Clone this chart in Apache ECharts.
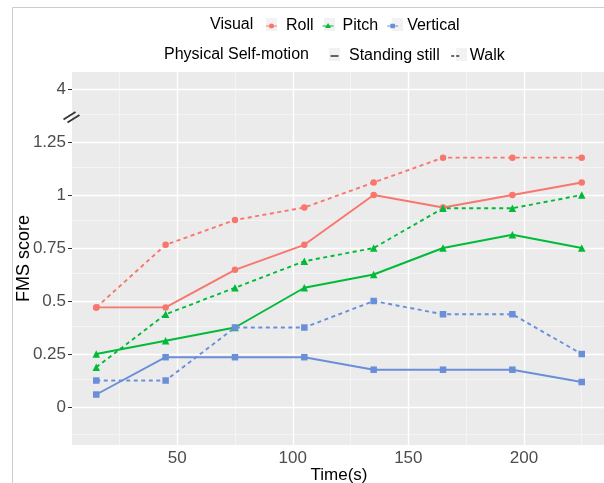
<!DOCTYPE html>
<html>
<head>
<meta charset="utf-8">
<script src="https://cdn.jsdelivr.net/npm/echarts@6/dist/echarts.min.js"></script>
<style>
html,body{margin:0;padding:0;background:#fff;}
#chart{width:604px;height:483px;}
</style>
</head>
<body>
<div id="chart"></div>
<script>
// ---- data ----
const timeValues = [15, 45, 75, 105, 135, 165, 195, 225];
const rollStanding = [0.47, 0.47, 0.647, 0.765, 1.0, 0.941, 1.0, 1.059];
const rollWalk = [0.47, 0.765, 0.882, 0.941, 1.059, 1.176, 1.176, 1.176];
const pitchStanding = [0.25, 0.3125, 0.375, 0.5625, 0.625, 0.75, 0.8125, 0.75];
const pitchWalk = [0.1875, 0.4375, 0.5625, 0.6875, 0.75, 0.9375, 0.9375, 1.0];
const verticalStanding = [0.059, 0.235, 0.235, 0.235, 0.176, 0.176, 0.176, 0.118];
const verticalWalk = [0.125, 0.125, 0.375, 0.375, 0.5, 0.4375, 0.4375, 0.25];

const visualNames = ['Roll', 'Pitch', 'Vertical'];
const motionNames = ['Standing still', 'Walk'];

const xTickValues = [50, 100, 150, 200];
const xMinorValues = [25, 75, 125, 175, 225];
const yTickValues = [0, 0.25, 0.5, 0.75, 1, 1.25, 4];
const yTickLabels = ['0', '0.25', '0.5', '0.75', '1', '1.25', '4'];

// ---- broken axis transform (1.25 .. 4 compressed into one step) ----
const breakAt = 1.25, breakTop = 4, breakSpan = 0.25;
function toAxis(v) {
  return v <= breakAt ? v : breakAt + (v - breakAt) * breakSpan / (breakTop - breakAt);
}
const yTickAxis = yTickValues.map(toAxis);
const yMinorAxis = [];
for (let i = 0; i < yTickAxis.length - 1; i++) yMinorAxis.push((yTickAxis[i] + yTickAxis[i + 1]) / 2);
yMinorAxis.unshift(yTickAxis[0] - (yTickAxis[1] - yTickAxis[0]) / 2);

const colors = { Roll: '#F8766D', Pitch: '#00BA38', Vertical: '#6A8FD8' };
const symbols = { Roll: 'circle', Pitch: 'triangle', Vertical: 'rect' };
const symbolSizes = { Roll: 6.5, Pitch: 7.5, Vertical: 6.5 };

// legend key icons (11 x 13 box, grey key background drawn separately)
const BOX = 'M0,0h0.01v0.01h-0.01z M10.99,12.99h0.01v0.01h-0.01z ';
const keyIcons = {
  Roll: 'path://' + BOX + 'M0,5.9h11v1.2h-11z M3,6.5a2.5,2.5 0 1,1 5,0a2.5,2.5 0 1,1 -5,0z',
  Pitch: 'path://' + BOX + 'M0,5.9h11v1.2h-11z M5.5,3.6L8.4,8.6L2.6,8.6z',
  Vertical: 'path://' + BOX + 'M0,5.9h11v1.2h-11z M3.2,4.2h4.6v4.6h-4.6z',
  'Standing still': 'path://' + BOX + 'M1.5,5.8h8v1.4h-8z',
  Walk: 'path://' + BOX + 'M1.5,5.8h3v1.4h-3z M6.5,5.8h3v1.4h-3z'
};

function pairs(vals) { return timeValues.map((t, i) => [t, toAxis(vals[i])]); }

const FONT = "'Liberation Sans', Arial, sans-serif";

function dataSeries(name, vals, dashed) {
  return {
    type: 'line', name: name + (dashed ? ' walk' : ' standing'),
    data: pairs(vals), z: 5,
    symbol: symbols[name], symbolSize: symbolSizes[name],
    itemStyle: { color: colors[name] },
    lineStyle: { color: colors[name], width: 1.9, type: dashed ? [4, 3.5] : 'solid' },
    emphasis: { disabled: true }, animation: false
  };
}

const gridSeries = {
  type: 'line', name: 'grid', data: [], z: 1, silent: true, animation: false,
  markLine: {
    silent: true, symbol: ['none', 'none'], label: { show: false }, animation: false,
    data: [
      ...yMinorAxis.map(v => ({ yAxis: v, lineStyle: { color: '#F6F6F6', width: 0.8, type: 'solid' } })),
      ...xMinorValues.map(v => ({ xAxis: v, lineStyle: { color: '#F6F6F6', width: 0.8, type: 'solid' } })),
      ...yTickAxis.map(v => ({ yAxis: v, lineStyle: { color: '#FFFFFF', width: 1.4, type: 'solid' } })),
      ...xTickValues.map(v => ({ xAxis: v, lineStyle: { color: '#FFFFFF', width: 1.4, type: 'solid' } }))
    ]
  }
};

const legendSeries = [
  ...visualNames.map(n => ({ type: 'line', name: n, data: [], itemStyle: { color: colors[n] } })),
  ...motionNames.map(n => ({ type: 'line', name: n, data: [], itemStyle: { color: '#333' } }))
];

const legendText = { fontFamily: FONT, fontSize: 16, color: '#000', padding: [0, 0, 0, 4] };

const chart = echarts.init(document.getElementById('chart'), null, { renderer: 'canvas' });
chart.setOption({
  animation: false,
  backgroundColor: '#fff',
  textStyle: { fontFamily: FONT },
  grid: { left: 72, right: -2, top: 72, bottom: 38, show: true, backgroundColor: '#EBEBEB', borderWidth: 0, containLabel: false, outerBoundsMode: 'none' },
  xAxis: {
    type: 'value', min: 4.5, max: 235.5,
    name: 'Time(s)', nameLocation: 'middle', nameGap: 22, nameMoveOverlap: false,
    nameTextStyle: { fontFamily: FONT, fontSize: 17, color: '#000' },
    axisLine: { show: false },
    axisTick: { show: true, length: 4, lineStyle: { color: '#333', width: 1 }, customValues: xTickValues },
    axisLabel: { fontFamily: FONT, fontSize: 17, color: '#4D4D4D', margin: 5, customValues: xTickValues },
    splitLine: { show: false }
  },
  yAxis: {
    type: 'value', min: -0.179, max: 1.58,
    name: 'FMS score', nameLocation: 'middle', nameGap: 39, nameMoveOverlap: false,
    nameTextStyle: { fontFamily: FONT, fontSize: 18, color: '#000' },
    axisLine: { show: false },
    axisTick: { show: true, length: 4, lineStyle: { color: '#333', width: 1 }, customValues: yTickAxis },
    axisLabel: {
      fontFamily: FONT, fontSize: 17, color: '#4D4D4D', margin: 6, customValues: yTickAxis,
      formatter: v => { const i = yTickAxis.findIndex(t => Math.abs(t - v) < 1e-6); return i >= 0 ? yTickLabels[i] : ''; }
    },
    splitLine: { show: false }
  },
  legend: [
    {
      data: visualNames.map(n => ({ name: n, icon: keyIcons[n] })),
      left: 266, top: 18, padding: 0, itemWidth: 11, itemHeight: 13, itemGap: 9,
      textStyle: legendText, selectedMode: false
    },
    {
      data: motionNames.map(n => ({ name: n, icon: keyIcons[n] })),
      left: 329, top: 48, padding: 0, itemWidth: 11, itemHeight: 13, itemGap: 10,
      textStyle: legendText, selectedMode: false
    }
  ],
  graphic: [
    { type: 'line', shape: { x1: 12.5, y1: 7.5, x2: 604, y2: 7.5 }, style: { stroke: '#CCCCCC', lineWidth: 1 }, z: 0 },
    { type: 'line', shape: { x1: 12.5, y1: 7.5, x2: 12.5, y2: 483 }, style: { stroke: '#CCCCCC', lineWidth: 1 }, z: 0 },
    { type: 'rect', shape: { x: 266, y: 18, width: 11, height: 13 }, style: { fill: '#F2F2F2' }, z: 0 },
    { type: 'rect', shape: { x: 324, y: 18, width: 11, height: 13 }, style: { fill: '#F2F2F2' }, z: 0 },
    { type: 'rect', shape: { x: 392, y: 18, width: 11, height: 13 }, style: { fill: '#F2F2F2' }, z: 0 },
    { type: 'rect', shape: { x: 329, y: 48, width: 11, height: 13 }, style: { fill: '#F2F2F2' }, z: 0 },
    { type: 'rect', shape: { x: 456, y: 48, width: 11, height: 13 }, style: { fill: '#F2F2F2' }, z: 0 },
    { type: 'text', left: 210, top: 17, style: { text: 'Visual', font: '16px ' + FONT, fill: '#000' } },
    { type: 'text', left: 164, top: 47, style: { text: 'Physical Self-motion', font: '16px ' + FONT, fill: '#000' } },
    { type: 'line', shape: { x1: 63.5, y1: 119.5, x2: 75.5, y2: 112 }, style: { stroke: '#333', lineWidth: 1.8 }, z: 10 },
    { type: 'line', shape: { x1: 67.5, y1: 122.5, x2: 79.5, y2: 115 }, style: { stroke: '#333', lineWidth: 1.8 }, z: 10 }
  ],
  series: [
    gridSeries,
    ...legendSeries,
    dataSeries('Roll', rollStanding, false),
    dataSeries('Roll', rollWalk, true),
    dataSeries('Pitch', pitchStanding, false),
    dataSeries('Pitch', pitchWalk, true),
    dataSeries('Vertical', verticalStanding, false),
    dataSeries('Vertical', verticalWalk, true)
  ]
});
</script>
</body>
</html>
